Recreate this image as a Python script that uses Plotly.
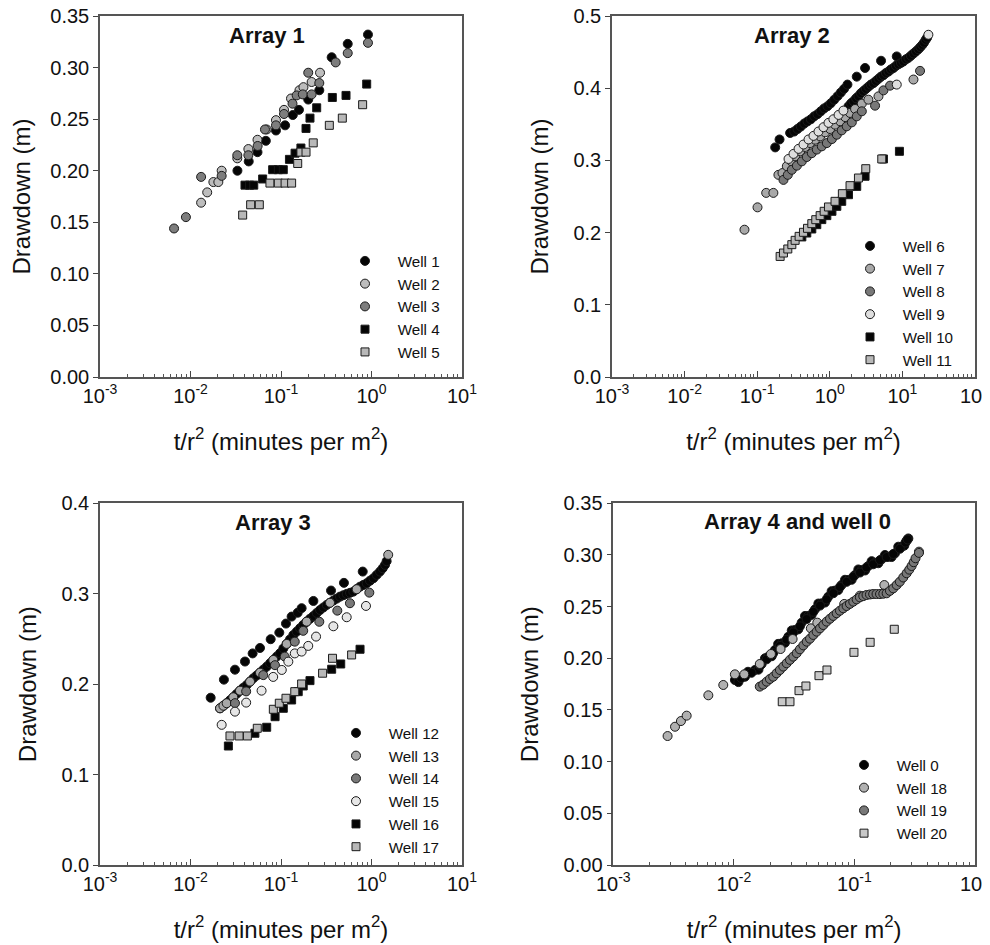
import plotly.graph_objects as go

FONT = "Arial, Liberation Sans, sans-serif"

# ---------------- Array 1 ----------------
w1_x = [0.033, 0.044, 0.055, 0.068, 0.088, 0.111, 0.135, 0.158, 0.200, 0.265, 0.363, 0.546, 0.914]
w1_y = [0.200, 0.209, 0.218, 0.229, 0.239, 0.244, 0.254, 0.259, 0.269, 0.278, 0.310, 0.323, 0.332]
w2_x = [0.0131, 0.0153, 0.0179, 0.0203, 0.0221, 0.0329, 0.0436, 0.055, 0.0695, 0.088, 0.108, 0.129, 0.160, 0.177, 0.218, 0.270]
w2_y = [0.169, 0.179, 0.189, 0.189, 0.200, 0.212, 0.221, 0.230, 0.240, 0.249, 0.259, 0.270, 0.278, 0.281, 0.286, 0.295]
w3_x = [0.00658, 0.0089, 0.0131, 0.0221, 0.0329, 0.0436, 0.0552, 0.0665, 0.088, 0.108, 0.134, 0.149, 0.174, 0.200, 0.218, 0.265, 0.402, 0.546, 0.914]
w3_y = [0.144, 0.155, 0.194, 0.195, 0.215, 0.215, 0.224, 0.240, 0.244, 0.255, 0.265, 0.273, 0.274, 0.295, 0.274, 0.285, 0.305, 0.314, 0.324]
w4_x = [0.040, 0.045, 0.050, 0.0627, 0.0809, 0.0934, 0.106, 0.124, 0.143, 0.166, 0.189, 0.209, 0.248, 0.369, 0.523, 0.885]
w4_y = [0.186, 0.186, 0.186, 0.192, 0.201, 0.201, 0.201, 0.211, 0.217, 0.222, 0.241, 0.251, 0.261, 0.271, 0.273, 0.284]
w5_x = [0.0377, 0.0462, 0.0576, 0.0755, 0.0934, 0.111, 0.131, 0.153, 0.166, 0.189, 0.227, 0.342, 0.476, 0.798]
w5_y = [0.157, 0.167, 0.167, 0.188, 0.188, 0.188, 0.188, 0.207, 0.218, 0.218, 0.227, 0.244, 0.251, 0.264]

# ---------------- Array 2 ----------------
w6_x = [0.177, 0.203, 0.284, 0.323, 0.359, 0.399, 0.444, 0.493, 0.548, 0.609, 0.677, 0.752, 0.836, 0.929,
        1.03, 1.15, 1.28, 1.42, 1.57, 1.75, 2.35, 3.06, 5.08, 8.36,
        1.81, 1.96, 2.12, 2.30, 2.48, 2.68, 2.90, 3.14, 3.40, 3.68, 3.99, 4.32, 4.68, 5.07, 5.48, 5.93,
        6.42, 6.95, 7.52, 8.14, 8.81, 9.55, 10.3, 11.2, 12.1, 13.1, 14.2, 15.4, 16.6, 17.7, 18.8, 19.8, 20.9, 21.9]
w6_y = [0.318, 0.329, 0.338, 0.340, 0.3435, 0.347, 0.351, 0.354, 0.357, 0.361, 0.364, 0.368, 0.372, 0.375,
        0.379, 0.384, 0.389, 0.394, 0.399, 0.405, 0.416, 0.428, 0.438, 0.444,
        0.375, 0.379, 0.382, 0.386, 0.389, 0.393, 0.396, 0.399, 0.402, 0.405, 0.407, 0.410, 0.413, 0.416, 0.418, 0.421,
        0.423, 0.426, 0.428, 0.431, 0.433, 0.435, 0.437, 0.440, 0.442, 0.445, 0.448, 0.451, 0.454, 0.457, 0.460, 0.463, 0.467, 0.470]
w7_x = [0.0668, 0.101, 0.133, 0.167, 0.196, 0.223, 0.256, 0.294, 0.333, 0.391, 0.458, 0.536, 0.628, 0.736,
        0.863, 1.01, 1.18, 1.39, 1.63, 1.90, 2.23, 2.76, 3.40, 4.68, 14.2]
w7_y = [0.204, 0.235, 0.255, 0.255, 0.280, 0.2825, 0.292, 0.299, 0.3056, 0.3126, 0.3186, 0.324, 0.3287, 0.3333,
        0.3389, 0.3435, 0.3495, 0.3541, 0.360, 0.3657, 0.3712, 0.3786, 0.3841, 0.3887, 0.412]
w8_x = [0.230, 0.264, 0.300, 0.352, 0.412, 0.482, 0.565, 0.662, 0.776, 0.910, 1.07, 1.25, 1.46, 1.71,
        2.01, 2.35, 2.76, 4.2, 5.48, 6.76, 17.5]
w8_y = [0.273, 0.280, 0.287, 0.2927, 0.2987, 0.3047, 0.310, 0.315, 0.3195, 0.324, 0.3296, 0.3356, 0.3416, 0.3472,
        0.3527, 0.361, 0.368, 0.3758, 0.397, 0.4035, 0.424]
w9_x = [0.270, 0.316, 0.371, 0.434, 0.509, 0.596, 0.698, 0.818, 0.959, 1.12, 1.32, 1.54, 8.36, 22.8]
w9_y = [0.302, 0.309, 0.316, 0.322, 0.329, 0.334, 0.340, 0.346, 0.352, 0.357, 0.363, 0.369, 0.405, 0.474]
w10_x = [0.412, 0.482, 0.565, 0.662, 0.776, 0.910, 1.07, 1.25, 1.46, 1.81, 2.35, 3.06, 5.48, 9.1]
w10_y = [0.194, 0.1994, 0.205, 0.211, 0.218, 0.2235, 0.2295, 0.2364, 0.2433, 0.2525, 0.264, 0.278, 0.302, 0.3126]
w11_x = [0.207, 0.230, 0.264, 0.300, 0.333, 0.378, 0.434, 0.493, 0.565, 0.641, 0.736, 0.836, 0.959, 1.18,
         1.49, 1.90, 2.48, 3.13, 5.2]
w11_y = [0.167, 0.1717, 0.1773, 0.1833, 0.1893, 0.1948, 0.2004, 0.2059, 0.2124, 0.2179, 0.2235, 0.2295, 0.2355,
         0.2433, 0.2539, 0.265, 0.2756, 0.2885, 0.302]

# ---------------- Array 3 ----------------
w12_x = [0.0167, 0.0234, 0.031, 0.040, 0.0486, 0.0586, 0.0769, 0.0958, 0.1135, 0.131, 0.153, 0.169, 0.228,
         0.357, 0.496, 0.80,
         0.0212, 0.0231, 0.0251, 0.0273, 0.0297, 0.0323, 0.0352, 0.0383, 0.0418, 0.0455, 0.0495, 0.0539,
         0.0586, 0.0638, 0.0695, 0.0757, 0.0823, 0.0896, 0.0975, 0.1061, 0.1155, 0.1257, 0.137, 0.149, 0.162,
         0.176, 0.192, 0.209, 0.228, 0.248, 0.27, 0.294, 0.32, 0.348, 0.379, 0.413, 0.449, 0.489, 0.532, 0.579,
         0.63, 0.686, 0.747, 0.813, 0.885, 0.963, 1.05, 1.14, 1.24, 1.33, 1.41, 1.47]
w12_y = [0.185, 0.205, 0.216, 0.225, 0.234, 0.240, 0.2497, 0.257, 0.267, 0.2747, 0.279, 0.284, 0.292,
         0.3035, 0.312, 0.3245,
         0.1733, 0.1761, 0.1789, 0.1822, 0.1855, 0.1892, 0.1928, 0.196, 0.1991, 0.2028, 0.2065, 0.2096,
         0.2127, 0.2161, 0.2194, 0.2231, 0.2268, 0.2305, 0.2342, 0.2394, 0.2445, 0.2495, 0.2544, 0.2581, 0.2618,
         0.2655, 0.2691, 0.2723, 0.2754, 0.2787, 0.282, 0.2848, 0.2876, 0.29, 0.2924, 0.2946, 0.2968, 0.2983,
         0.2998, 0.301, 0.3023, 0.305, 0.3078, 0.3097, 0.3116, 0.3144, 0.3171, 0.3208, 0.3245, 0.3282, 0.3319, 0.336]
w13_x = [0.0212, 0.0231, 0.0251, 0.0297, 0.0352, 0.0455, 0.0586, 0.0823, 0.1155, 0.192, 0.348, 0.686, 1.53]
w13_y = [0.1733, 0.1761, 0.1789, 0.1855, 0.1928, 0.2028, 0.2127, 0.2268, 0.2445, 0.2691, 0.29, 0.305, 0.343]
w14_x = [0.031, 0.0412, 0.0637, 0.0858, 0.110, 0.142, 0.176, 0.265, 0.419, 0.578, 0.946]
w14_y = [0.179, 0.192, 0.210, 0.221, 0.2305, 0.247, 0.259, 0.269, 0.2813, 0.2895, 0.3012]
w15_x = [0.0221, 0.031, 0.0412, 0.061, 0.082, 0.102, 0.1205, 0.142, 0.169, 0.200, 0.244, 0.379, 0.532, 0.869]
w15_y = [0.155, 0.1696, 0.1796, 0.1928, 0.208, 0.2157, 0.2249, 0.234, 0.236, 0.2423, 0.2526, 0.264, 0.274, 0.2865]
w16_x = [0.0262, 0.0515, 0.0695, 0.086, 0.106, 0.131, 0.155, 0.176, 0.209, 0.363, 0.457, 0.747]
w16_y = [0.1316, 0.1457, 0.1523, 0.164, 0.1733, 0.1825, 0.1917, 0.198, 0.2039, 0.2165, 0.2223, 0.2386]
w17_x = [0.0273, 0.0345, 0.0425, 0.0547, 0.0823, 0.0958, 0.1135, 0.142, 0.169, 0.288, 0.371, 0.603]
w17_y = [0.1427, 0.1427, 0.1427, 0.1512, 0.1722, 0.1789, 0.1844, 0.1917, 0.2002, 0.2121, 0.2286, 0.2323]

# ---------------- Array 4 and well 0 ----------------
w0_x = [0.0102, 0.0109, 0.01236, 0.0131, 0.01496, 0.0160, 0.0170, 0.0181, 0.0193, 0.0206, 0.0219, 0.0233,
        0.0249, 0.0265, 0.0283, 0.0302, 0.0321, 0.0342, 0.0365, 0.0389, 0.0414, 0.0441, 0.0471, 0.0502,
        0.0535, 0.0570, 0.0607, 0.0647, 0.0689, 0.0734, 0.0783, 0.0835, 0.0889, 0.0948, 0.101, 0.1077,
        0.1148, 0.1224, 0.1303, 0.1389, 0.148, 0.1578, 0.168, 0.1791, 0.1906, 0.2032, 0.2168, 0.231,
        0.246, 0.259, 0.271, 0.280,
        0.0115, 0.0140, 0.0165, 0.0187, 0.0212, 0.0241, 0.0274, 0.0311, 0.0353, 0.0401, 0.0456, 0.0518,
        0.0588, 0.0668, 0.0758, 0.0862, 0.0979, 0.111, 0.126, 0.143, 0.163, 0.185, 0.210, 0.238, 0.265, 0.276]
w0_y = [0.179, 0.177, 0.1822, 0.187, 0.1887, 0.189, 0.1945, 0.200, 0.2016, 0.202, 0.208, 0.214,
        0.2145, 0.215, 0.2209, 0.227, 0.2274, 0.228, 0.2345, 0.241, 0.241, 0.242, 0.2474, 0.253,
        0.2532, 0.254, 0.2596, 0.265, 0.2655, 0.266, 0.271, 0.276, 0.2758, 0.276, 0.2806, 0.286,
        0.2855, 0.285, 0.2893, 0.294, 0.2925, 0.292, 0.2958, 0.300, 0.2983, 0.298, 0.3016, 0.308,
        0.308, 0.309, 0.3138, 0.316,
        0.181, 0.186, 0.193, 0.199, 0.205, 0.212, 0.218, 0.225, 0.231, 0.238, 0.245, 0.251,
        0.257, 0.263, 0.269, 0.274, 0.279, 0.283, 0.288, 0.291, 0.295, 0.298, 0.301, 0.306, 0.312, 0.315]
w18_x = [0.00282, 0.00325, 0.00364, 0.00406, 0.00614, 0.00817, 0.0102, 0.0122, 0.0164, 0.0203, 0.0244,
         0.0307, 0.0435, 0.0492, 0.0823, 0.111, 0.177, 0.343]
w18_y = [0.1248, 0.1338, 0.1393, 0.1445, 0.1642, 0.1742, 0.1845, 0.1845, 0.1945, 0.2042, 0.209,
         0.2187, 0.229, 0.2345, 0.2526, 0.2606, 0.2709, 0.3032]
w19_x = [0.0164, 0.0175, 0.0187, 0.0199, 0.0212, 0.0226, 0.0241, 0.0257, 0.0274, 0.0292, 0.0311, 0.0332,
         0.0353, 0.0377, 0.0402, 0.0428, 0.0456, 0.0486, 0.0518, 0.0552, 0.0588, 0.0627, 0.0668, 0.0712,
         0.0758, 0.0808, 0.0861, 0.0918, 0.0978, 0.1043, 0.111, 0.1184, 0.126, 0.1345, 0.143, 0.1525,
         0.163, 0.1735, 0.185, 0.197, 0.21, 0.224, 0.238, 0.254, 0.271, 0.285, 0.298, 0.31, 0.321, 0.343]
w19_y = [0.1726, 0.1745, 0.1774, 0.180, 0.1822, 0.1855, 0.1887, 0.192, 0.1952, 0.1985, 0.2016, 0.205,
         0.2087, 0.2125, 0.2161, 0.219, 0.2226, 0.2258, 0.229, 0.2322, 0.2355, 0.2383, 0.241, 0.2436,
         0.2461, 0.2484, 0.2506, 0.2527, 0.2548, 0.257, 0.259, 0.2602, 0.2613, 0.2618, 0.2622, 0.2622,
         0.2622, 0.2625, 0.2629, 0.2653, 0.2677, 0.2709, 0.2741, 0.2782, 0.2823, 0.2858, 0.2893, 0.293, 0.2968, 0.302]
w20_x = [0.0252, 0.0292, 0.0347, 0.0396, 0.0508, 0.0592, 0.0991, 0.135, 0.214]
w20_y = [0.158, 0.158, 0.1687, 0.1732, 0.1832, 0.1887, 0.2058, 0.2155, 0.2281]

# ---------------- axis ticks ----------------
log_vals = [0.001, 0.01, 0.1, 1, 10, 100]
log_text = ["10<sup>-3</sup>", "10<sup>-2</sup>", "10<sup>-1</sup>", "10<sup>0</sup>",
            "10<sup>1</sup>", "10<sup>2</sup>"]

# page body has an 8px margin; the figure fills the rest of the 990x945 window
W, H, OFF = 982, 937, 8

def PX(sx):
    return (sx - OFF) / W

def PY(sy):
    return 1 - (sy - OFF) / H

fig = go.Figure()
PAD = "\u00a0\u00a0\u00a0"

def add(xs, ys, name, fill, symbol, axn, leg, size=9):
    fig.add_trace(go.Scatter(
        x=xs, y=ys, mode="markers", name=PAD + name,
        xaxis="x" + ("" if axn == 1 else str(axn)),
        yaxis="y" + ("" if axn == 1 else str(axn)),
        legend=leg, legendgroup=name,
        marker=dict(symbol=symbol, size=size, color=fill,
                    line=dict(color="#1a1a1a", width=1)),
        cliponaxis=False,
    ))

BLACK = "#050505"
add(w1_x, w1_y, "Well 1", BLACK, "circle", 1, "legend")
add(w2_x, w2_y, "Well 2", "#bdbdbd", "circle", 1, "legend")
add(w3_x, w3_y, "Well 3", "#7d7d7d", "circle", 1, "legend")
add(w4_x, w4_y, "Well 4", BLACK, "square", 1, "legend", 8)
add(w5_x, w5_y, "Well 5", "#b8b8b8", "square", 1, "legend", 8)

add(w6_x, w6_y, "Well 6", BLACK, "circle", 2, "legend2")
add(w7_x, w7_y, "Well 7", "#a8a8a8", "circle", 2, "legend2")
add(w8_x, w8_y, "Well 8", "#787878", "circle", 2, "legend2")
add(w9_x, w9_y, "Well 9", "#dedede", "circle", 2, "legend2")
add(w10_x, w10_y, "Well 10", BLACK, "square", 2, "legend2", 8)
add(w11_x, w11_y, "Well 11", "#b8b8b8", "square", 2, "legend2", 8)

add(w12_x, w12_y, "Well 12", BLACK, "circle", 3, "legend3")
add(w13_x, w13_y, "Well 13", "#a8a8a8", "circle", 3, "legend3")
add(w14_x, w14_y, "Well 14", "#787878", "circle", 3, "legend3")
add(w15_x, w15_y, "Well 15", "#e6e6e6", "circle", 3, "legend3")
add(w16_x, w16_y, "Well 16", BLACK, "square", 3, "legend3", 8)
add(w17_x, w17_y, "Well 17", "#b8b8b8", "square", 3, "legend3", 8)

add(w0_x, w0_y, "Well 0", BLACK, "circle", 4, "legend4")
add(w18_x, w18_y, "Well 18", "#b0b0b0", "circle", 4, "legend4")
add(w19_x, w19_y, "Well 19", "#787878", "circle", 4, "legend4")
add(w20_x, w20_y, "Well 20", "#c8c8c8", "square", 4, "legend4", 8)

XT = "t/r<sup>2</sup> (minutes per m<sup>2</sup>)"

def xaxis(domain, rng, anchor):
    return dict(
        type="log", range=rng, domain=domain, anchor=anchor, automargin=False,
        tickvals=log_vals, ticktext=log_text, tickmode="array", ticklabeloverflow="allow",
        ticks="inside", ticklen=6, tickwidth=1, tickcolor="#444",
        minor=dict(ticks="inside", ticklen=3, tickwidth=1, tickcolor="#555", dtick="D1", showgrid=False),
        showline=True, linecolor="#555", linewidth=1.5, mirror=True,
        showgrid=False, zeroline=False,
        tickfont=dict(family=FONT, size=20, color="#111"),
        title=dict(text=XT, font=dict(family=FONT, size=24, color="#111"), standoff=27),
    )

def yaxis(domain, rng, dtick, fmt, anchor):
    return dict(
        range=rng, domain=domain, anchor=anchor, dtick=dtick, tick0=0, tickformat=fmt, automargin=False,
        ticks="outside", ticklen=5, tickwidth=1, tickcolor="#444", ticklabeloverflow="allow",
        showline=True, linecolor="#555", linewidth=1.5, mirror=True,
        showgrid=False, zeroline=False,
        tickfont=dict(family=FONT, size=20, color="#111"),
        title=dict(text="Drawdown (m)", font=dict(family=FONT, size=24, color="#111"), standoff=18),
    )

XL = [PX(100), PX(462)]
XR = [PX(612), PX(975)]
XR4 = [PX(613.3), PX(975)]
YT = [PY(377), PY(16)]
YB = [PY(865), PY(503.3)]

def legend(sx, sy):
    return dict(x=PX(sx), y=PY(sy), xanchor="left", yanchor="top", bgcolor="rgba(0,0,0,0)",
                font=dict(family=FONT, size=15.2, color="#111"), tracegroupgap=0,
                itemclick=False, itemdoubleclick=False)

fig.update_layout(
    width=W, height=H,
    margin=dict(l=0, r=0, t=0, b=0),
    paper_bgcolor="white", plot_bgcolor="white",
    font=dict(family=FONT, color="#111"),
    xaxis=xaxis(XL, [-3, 1], "y"),
    yaxis=yaxis(YT, [0, 0.35], 0.05, ".2f", "x"),
    xaxis2=xaxis(XR, [-3, 2], "y2"),
    yaxis2=yaxis(YT, [0, 0.5], 0.1, ".1f", "x2"),
    xaxis3=xaxis(XL, [-3, 1], "y3"),
    yaxis3=yaxis(YB, [0, 0.4], 0.1, ".1f", "x3"),
    xaxis4=xaxis(XR4, [-3, 0], "y4"),
    yaxis4=yaxis(YB, [0, 0.35], 0.05, ".2f", "x4"),
    legend=legend(345, 244.5),
    legend2=legend(850, 229.5),
    legend3=legend(336, 716.5),
    legend4=legend(844, 748.5),
    showlegend=True,
)

titles = [("Array 1", 267, 36), ("Array 2", 792, 36), ("Array 3", 273, 522), ("Array 4 and well 0", 797, 521)]
for t, sx, sy in titles:
    fig.add_annotation(text="<b>" + t + "</b>", x=PX(sx), y=PY(sy), xref="paper", yref="paper",
                       showarrow=False, xanchor="center", yanchor="middle",
                       font=dict(family=FONT, size=22, color="#111"))

fig.write_html("out.html")
